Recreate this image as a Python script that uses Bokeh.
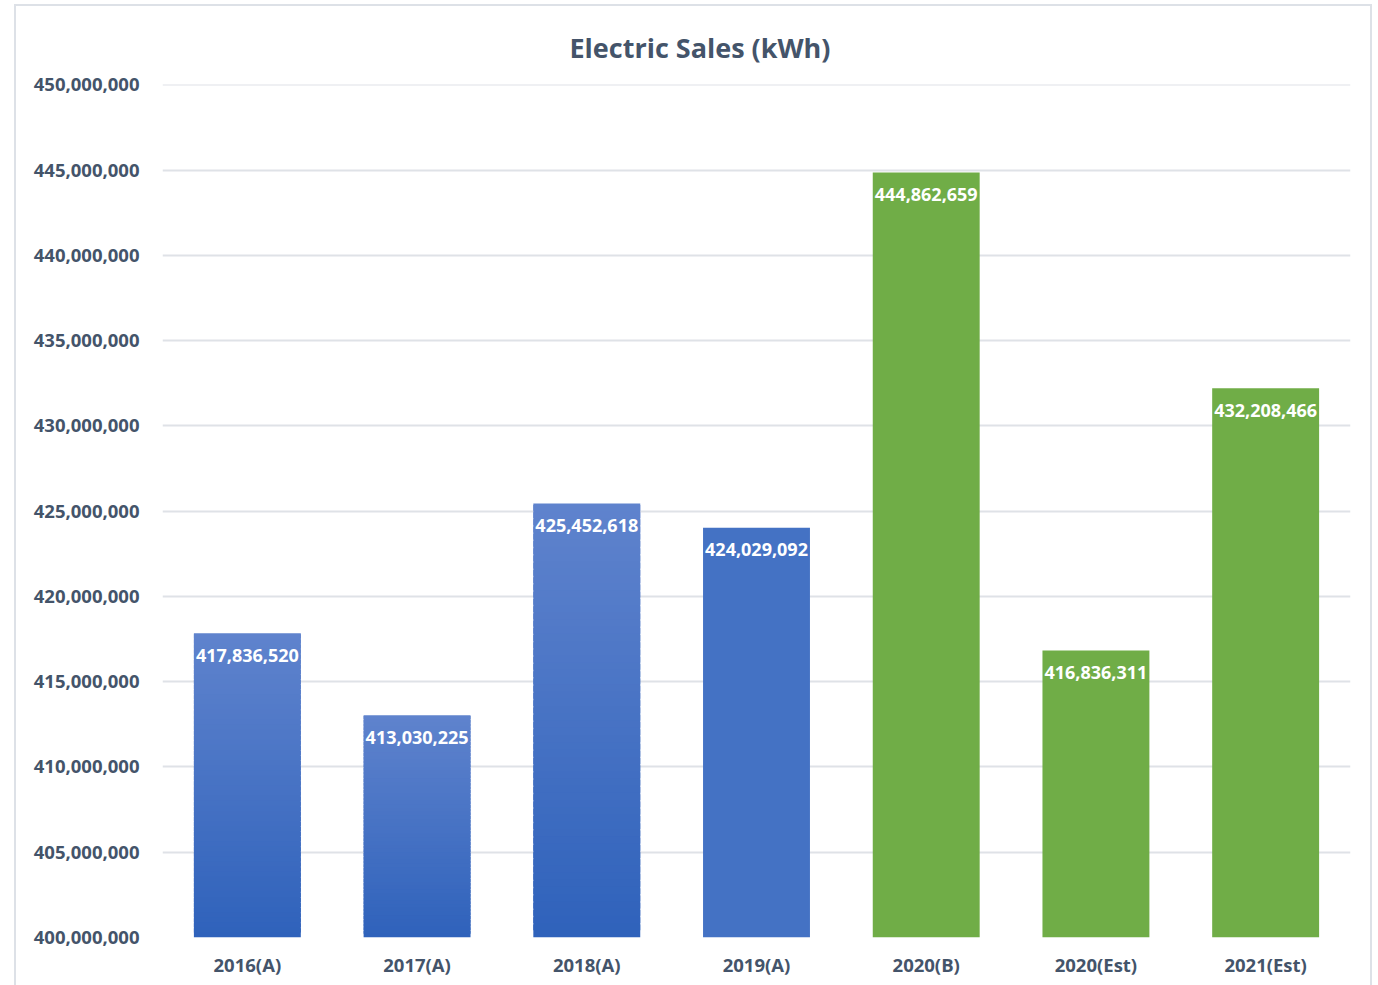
from bokeh.plotting import figure
from bokeh.models import Range1d, FixedTicker, NumeralTickFormatter, Spacer
from bokeh.layouts import row, column
from bokeh.core.properties import value
from bokeh.embed import file_html
from bokeh.resources import INLINE

# ---- data ----
categories = ["2016(A)", "2017(A)", "2018(A)", "2019(A)", "2020(B)", "2020(Est)", "2021(Est)"]
sales = [417836520, 413030225, 425452618, 424029092, 444862659, 416836311, 432208466]
styles_kind = ["gradient", "gradient", "gradient", "blue", "green", "green", "green"]
y_ticks = [400e6, 405e6, 410e6, 415e6, 420e6, 425e6, 430e6, 435e6, 440e6, 445e6, 450e6]
title_text = "Electric Sales (kWh)"

TEXT = "#44546a"
FONT = "Open Sans"
BASE = 400e6
TOP = 450e6

p = figure(x_range=categories, y_range=Range1d(BASE, TOP + 2e4), width=1354, height=979,
           output_backend="svg", toolbar_location=None,
           min_border_left=146, min_border_right=20, min_border_top=78, min_border_bottom=48,
           background_fill_color="white", border_fill_color="white", outline_line_color=None)
p.styles = {"outline": "2px solid #dde1e7"}

# gradient bars: stacked slices from dark (bottom) to light (top)
def mix(c1, c2, t):
    a = [int(c1[i:i + 2], 16) for i in (1, 3, 5)]
    b = [int(c2[i:i + 2], 16) for i in (1, 3, 5)]
    return "#%02x%02x%02x" % tuple(round(a[k] + (b[k] - a[k]) * t) for k in range(3))

N = 60
gx, gb, gt, gc = [], [], [], []
sx, sv, sc = [], [], []
for cat, v, kind in zip(categories, sales, styles_kind):
    if kind == "gradient":
        for i in range(N):
            gx.append(cat)
            gb.append(BASE + (v - BASE) * i / N)
            gt.append(min(v, BASE + (v - BASE) * (i + 1.8) / N))
            gc.append(mix("#2f62bb", "#5f83cd", (i + 0.5) / N))
    else:
        sx.append(cat)
        sv.append(v)
        sc.append("#4472c4" if kind == "blue" else "#70ad47")

p.vbar(x=gx, bottom=gb, top=gt, width=0.63, fill_color=gc, line_color=None)
p.vbar(x=sx, bottom=BASE, top=sv, width=0.63, fill_color=sc, line_color=None)

labels = ["{:,}".format(v) for v in sales]
p.text(x=categories, y=sales, text=labels, text_color="white", text_align="center",
       text_baseline="middle", y_offset=22, text_font=value(FONT), text_font_style="bold",
       text_font_size="18px")

# axes
p.yaxis.ticker = FixedTicker(ticks=y_ticks)
p.yaxis.formatter = NumeralTickFormatter(format="0,0")
for ax in (p.xaxis, p.yaxis):
    ax.axis_line_color = None
    ax.major_tick_line_color = None
    ax.minor_tick_line_color = None
    ax.major_label_text_font = FONT
    ax.major_label_text_font_style = "bold"
    ax.major_label_text_font_size = "18.5px"
    ax.major_label_text_color = TEXT
p.yaxis.major_label_standoff = 17
p.xaxis.major_label_standoff = 8

p.xgrid.grid_line_color = None
p.ygrid.grid_line_color = "#dfe2e7"
p.ygrid.grid_line_width = 2

p.title.text = title_text
p.title.align = "left"
p.title.offset = 407
p.title.text_font = FONT
p.title.text_font_style = "bold"
p.title.text_font_size = "27px"
p.title.text_color = TEXT
p.title.standoff = 38

layout = column(Spacer(height=6), row(Spacer(width=16), p))

html = file_html(layout, INLINE)
html = html.replace("<body>", '<body style="background:#f3f3f3">', 1)
open("out.html", "w").write(html)
